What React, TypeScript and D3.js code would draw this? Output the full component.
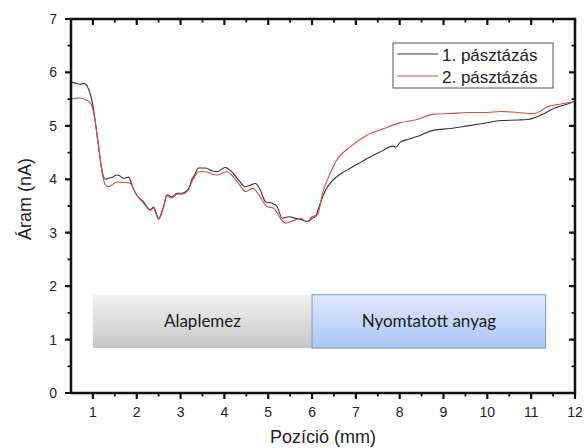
import React, { useEffect, useRef } from 'react';
import * as d3 from 'd3';

// 1. pásztázás (black)
const scan1X = [0.5, 0.6, 0.7, 0.8, 0.87, 0.93, 0.97, 1.0, 1.05, 1.09, 1.16, 1.22, 1.28, 1.35, 1.45, 1.54, 1.62, 1.7, 1.81, 1.92, 2.0, 2.15, 2.31, 2.38, 2.5, 2.61, 2.69, 2.8, 2.92, 3.03, 3.18, 3.26, 3.33, 3.41, 3.56, 3.72, 3.83, 4.02, 4.17, 4.32, 4.48, 4.59, 4.71, 4.82, 4.94, 5.09, 5.2, 5.32, 5.47, 5.62, 5.77, 5.89, 6.0, 6.08, 6.15, 6.31, 6.46, 6.65, 6.88, 7.07, 7.26, 7.45, 7.64, 7.85, 7.91, 8.02, 8.2, 8.4, 8.78, 9.16, 9.55, 9.93, 10.31, 10.69, 10.92, 11.22, 11.53, 11.83, 12.0];
const scan1Y = [5.82, 5.8, 5.78, 5.79, 5.74, 5.62, 5.5, 5.38, 5.1, 4.86, 4.42, 4.11, 4.0, 4.02, 4.04, 4.08, 4.06, 4.02, 4.04, 3.83, 3.71, 3.58, 3.43, 3.48, 3.27, 3.49, 3.71, 3.67, 3.74, 3.74, 3.82, 4.0, 4.1, 4.21, 4.21, 4.16, 4.14, 4.22, 4.14, 3.99, 3.86, 3.89, 3.92, 3.8, 3.58, 3.55, 3.49, 3.27, 3.3, 3.27, 3.24, 3.21, 3.27, 3.3, 3.46, 3.8, 3.97, 4.1, 4.21, 4.3, 4.39, 4.47, 4.55, 4.62, 4.6, 4.7, 4.75, 4.8, 4.92, 4.95, 5.0, 5.05, 5.1, 5.11, 5.12, 5.2, 5.33, 5.41, 5.46];

// 2. pásztázás (red)
const scan2X = [0.5, 0.7, 0.85, 0.95, 1.0, 1.05, 1.09, 1.16, 1.22, 1.28, 1.35, 1.45, 1.54, 1.75, 1.86, 1.92, 2.0, 2.15, 2.31, 2.38, 2.5, 2.61, 2.69, 2.8, 2.92, 3.03, 3.18, 3.26, 3.33, 3.41, 3.56, 3.72, 3.83, 4.05, 4.2, 4.35, 4.48, 4.65, 4.82, 4.97, 5.12, 5.28, 5.39, 5.62, 5.73, 5.89, 6.0, 6.12, 6.24, 6.43, 6.54, 6.88, 7.26, 7.64, 8.02, 8.4, 8.78, 9.16, 9.55, 9.93, 10.31, 10.69, 11.07, 11.38, 11.68, 12.0];
const scan2Y = [5.5, 5.52, 5.48, 5.42, 5.3, 5.1, 4.86, 4.42, 4.08, 3.9, 3.86, 3.9, 3.95, 3.94, 3.92, 3.82, 3.7, 3.56, 3.42, 3.46, 3.25, 3.47, 3.69, 3.65, 3.72, 3.72, 3.8, 3.96, 4.06, 4.14, 4.14, 4.1, 4.08, 4.14, 4.05, 3.89, 3.77, 3.83, 3.67, 3.49, 3.46, 3.27, 3.18, 3.24, 3.27, 3.21, 3.3, 3.33, 3.74, 4.14, 4.33, 4.61, 4.83, 4.95, 5.06, 5.12, 5.22, 5.23, 5.25, 5.25, 5.27, 5.25, 5.23, 5.36, 5.41, 5.45];

const legendLabels = ['1. pásztázás', '2. pásztázás'];
const seriesColors = ['#333333', '#e04848'];

// region boxes
const regionLabels = ['Alaplemez', 'Nyomtatott anyag'];
const regionX = [[1.0, 6.0], [6.0, 11.33]];
const regionY = [0.84, 1.84];
const regionFills = ['url(#grayG)', 'url(#blueG)'];
const regionStrokes = ['none', '#7d98c6'];

const xTicks = [1, 2, 3, 4, 5, 6, 7, 8, 9, 10, 11, 12];
const yTicks = [0, 1, 2, 3, 4, 5, 6, 7];

const W = 587;
const H = 448;
const m = { left: 71, right: 12, top: 19, bottom: 55 };

const App = () => {
  const svgRef = useRef<SVGSVGElement>(null);

  useEffect(() => {
    const svg = d3.select(svgRef.current);
    svg.selectAll('*').remove();
    const font = 'Liberation Sans, Arial, sans-serif';

    const x = d3.scaleLinear().domain([0.5, 12]).range([m.left, W - m.right]);
    const y = d3.scaleLinear().domain([0, 7]).range([H - m.bottom, m.top]);

    const defs = svg.append('defs');
    const g1 = defs.append('linearGradient').attr('id', 'grayG').attr('x1', 0).attr('y1', 0).attr('x2', 0).attr('y2', 1);
    g1.append('stop').attr('offset', 0).attr('stop-color', '#f2f2f2');
    g1.append('stop').attr('offset', 1).attr('stop-color', '#c6c6c6');
    const g2 = defs.append('linearGradient').attr('id', 'blueG').attr('x1', 0).attr('y1', 0).attr('x2', 0).attr('y2', 1);
    g2.append('stop').attr('offset', 0).attr('stop-color', '#dfeafc');
    g2.append('stop').attr('offset', 1).attr('stop-color', '#a9c6f6');

    // region boxes
    regionLabels.forEach((t, i) => {
      svg.append('rect')
        .attr('x', x(regionX[i][0])).attr('y', y(regionY[1]))
        .attr('width', x(regionX[i][1]) - x(regionX[i][0]))
        .attr('height', y(regionY[0]) - y(regionY[1]))
        .attr('fill', regionFills[i]).attr('stroke', regionStrokes[i]);
      svg.append('text')
        .attr('x', (x(regionX[i][0]) + x(regionX[i][1])) / 2)
        .attr('y', (y(regionY[0]) + y(regionY[1])) / 2 + 6)
        .attr('text-anchor', 'middle')
        .attr('font-family', 'Lato, sans-serif').attr('font-size', 17).attr('fill', '#1a1a1a')
        .text(t);
    });

    // curves
    const line = d3.line<[number, number]>().x(d => x(d[0])).y(d => y(d[1])).curve(d3.curveMonotoneX);
    [[scan1X, scan1Y], [scan2X, scan2Y]].forEach(([xs, ys], i) => {
      svg.append('path')
        .datum(xs.map((v, j) => [v, ys[j]] as [number, number]))
        .attr('fill', 'none').attr('stroke', seriesColors[i]).attr('stroke-width', 1.1)
        .attr('d', line);
    });

    // frame drawn as one polyline through the scales (corners of the data box)
    const xd = x.domain(), yd = y.domain();
    const frameLine = d3.line<[number, number]>().x(d => x(d[0])).y(d => y(d[1]));
    const framePts: [number, number][] = [
      [xd[0], yd[0]], [xd[1], yd[0]], [xd[1], yd[1]], [xd[0], yd[1]], [xd[0], yd[0]]
    ];
    svg.append('path').datum(framePts)
      .attr('fill', 'none').attr('stroke', '#111').attr('stroke-width', 2.5)
      .attr('stroke-linejoin', 'miter').attr('d', frameLine);

    // ticks: outward on bottom/left, inward on top/right; minor every 0.5
    const minorX = d3.range(1.5, 12, 1);
    const minorY = d3.range(0.5, 7, 1);
    const tickGroup = svg.append('g').attr('stroke', '#111');
    const yb = y(0), yt = y(7), xl = x(0.5), xr = x(12);
    const tickPath = (vals: number[], len: number, w: number, horiz: boolean) => {
      const p = d3.path();
      vals.forEach(v => {
        if (horiz) {
          p.moveTo(x(v), yb); p.lineTo(x(v), yb + len);
          p.moveTo(x(v), yt); p.lineTo(x(v), yt + len);
        } else {
          p.moveTo(xl - len, y(v)); p.lineTo(xl, y(v));
          p.moveTo(xr - len, y(v)); p.lineTo(xr, y(v));
        }
      });
      tickGroup.append('path').attr('d', p.toString()).attr('fill', 'none').attr('stroke-width', w);
    };
    tickPath(xTicks, 6, 2.2, true);
    tickPath(minorX, 3.5, 1.8, true);
    tickPath(yTicks, 6, 2.2, false);
    tickPath(minorY, 3.5, 1.8, false);

    // tick labels
    svg.append('g').selectAll('text').data(xTicks).join('text')
      .attr('x', d => x(d)).attr('y', yb + 24).attr('text-anchor', 'middle')
      .attr('font-family', font).attr('font-size', 14).attr('fill', '#222')
      .text(d => d);
    svg.append('g').selectAll('text').data(yTicks).join('text')
      .attr('x', xl - 14).attr('y', d => y(d) + 5).attr('text-anchor', 'end')
      .attr('font-family', font).attr('font-size', 14).attr('fill', '#222')
      .text(d => d);

    // axis titles
    svg.append('text')
      .attr('x', (xl + xr) / 2).attr('y', 443).attr('text-anchor', 'middle')
      .attr('font-family', font).attr('font-size', 18).attr('fill', '#222')
      .text('Pozíció (mm)');
    svg.append('text')
      .attr('transform', 'translate(31,199) rotate(-90)').attr('text-anchor', 'middle')
      .attr('font-family', font).attr('font-size', 18).attr('fill', '#222')
      .text('Áram (nA)');

    // legend
    const lg = svg.append('g').attr('transform', 'translate(393,43)');
    lg.append('rect').attr('width', 160).attr('height', 45).attr('fill', '#fff').attr('stroke', '#555');
    legendLabels.forEach((t, i) => {
      lg.append('line').attr('x1', 4).attr('x2', 45).attr('y1', 11 + i * 22).attr('y2', 11 + i * 22)
        .attr('stroke', seriesColors[i]).attr('stroke-width', 1.1);
      lg.append('text').attr('x', 49).attr('y', 18 + i * 22)
        .attr('font-family', font).attr('font-size', 17).attr('fill', '#222')
        .text(t);
    });
  }, []);

  return <svg ref={svgRef} width={W} height={H} style={{ position: 'absolute', left: 0, top: 0, background: '#fff' }} />;
};

export default App;
